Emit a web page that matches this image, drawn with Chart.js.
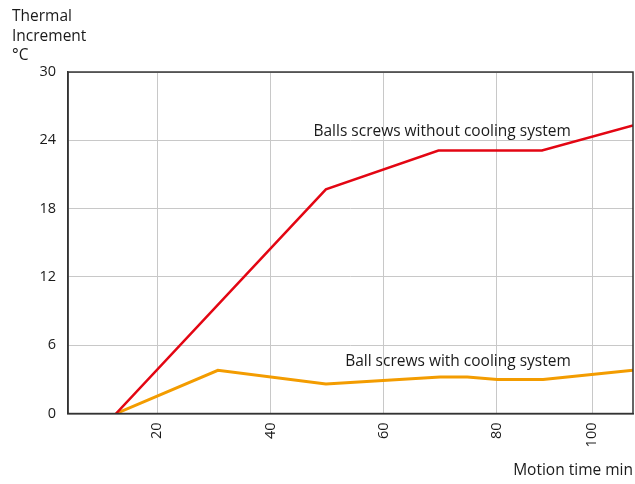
<!DOCTYPE html>
<html>
<head>
<meta charset="utf-8">
<script src="https://cdn.jsdelivr.net/npm/chart.js@4/dist/chart.umd.min.js"></script>
<style>
  html, body { margin: 0; padding: 0; background: #fff; }
  #wrap { width: 635px; height: 484px; }
</style>
</head>
<body>
<div id="wrap"><canvas id="c" width="635" height="484"></canvas></div>
<script>
// ---- data ----
const timeWithout = [12.7, 49.8, 69.7, 88.0, 104.1];
const tempWithout = [0, 19.7, 23.1, 23.1, 25.3];
const timeWith = [12.7, 30.7, 49.8, 59.9, 70.0, 74.8, 80.1, 88.2, 104.1];
const tempWith = [0, 3.8, 2.6, 2.9, 3.2, 3.2, 3.0, 3.0, 3.8];
const seriesNames = ['Balls screws without cooling system', 'Ball screws with cooling system'];
const labelX = [47.6, 53.2];
const labelY = [24.4, 4.2];
const xTickValues = [20, 40, 60, 80, 96.9];
const xTickLabels = ['20', '40', '60', '80', '100'];
const yTickValues = [0, 6, 12, 18, 24, 30];
const yTitleLines = ['Thermal', 'Increment', '°C'];
const xTitle = 'Motion time min';

const FONT = "'Open Sans', 'Noto Sans', sans-serif";
const RED = 'rgb(227,6,19)';
const ORANGE = 'rgb(243,156,0)';

const toPts = (xs, ys) => xs.map((x, i) => ({ x: x, y: ys[i] }));

const frameAndLabels = {
  id: 'frameAndLabels',
  afterDatasetsDraw(chart) {
    const { ctx, chartArea: a, scales } = chart;
    ctx.save();
    ctx.strokeStyle = '#333';
    ctx.lineWidth = 1.5;
    ctx.strokeRect(a.left, a.top, a.right - a.left, a.bottom - a.top);
    ctx.fillStyle = '#1a1a1a';
    ctx.font = '15.5px ' + FONT;
    ctx.textAlign = 'left';
    ctx.textBaseline = 'alphabetic';
    seriesNames.forEach((t, i) => {
      ctx.fillText(t, scales.x.getPixelForValue(labelX[i]), scales.y.getPixelForValue(labelY[i]));
    });
    ctx.restore();
  }
};

new Chart(document.getElementById('c'), {
  type: 'line',
  data: {
    datasets: [
      { label: seriesNames[0], data: toPts(timeWithout, tempWithout), borderColor: RED, borderWidth: 2.5, pointRadius: 0, tension: 0, fill: false },
      { label: seriesNames[1], data: toPts(timeWith, tempWith), borderColor: ORANGE, borderWidth: 3, pointRadius: 0, tension: 0, fill: false }
    ]
  },
  options: {
    responsive: false,
    animation: false,
    events: [],
    layout: { padding: { left: 12, right: 2, top: 0, bottom: 0 } },
    plugins: {
      legend: { display: false },
      tooltip: { enabled: false },
      title: {
        display: true,
        text: yTitleLines,
        align: 'start',
        color: '#1a1a1a',
        font: { family: FONT, size: 15.5, weight: 'normal', lineHeight: 1.25 },
        padding: { top: 7.3, bottom: 6.6 }
      }
    },
    scales: {
      x: {
        type: 'linear',
        min: 4.2,
        max: 104.1,
        afterBuildTicks: (s) => { s.ticks = xTickValues.map(v => ({ value: v })); },
        ticks: {
          autoSkip: false,
          minRotation: 90,
          maxRotation: 90,
          crossAlign: 'center',
          padding: 9,
          color: '#1a1a1a',
          font: { family: FONT, size: 14.5 },
          callback: (v, i) => xTickLabels[i]
        },
        grid: { color: '#c8c8c8', lineWidth: 1, drawTicks: false },
        border: { display: true, color: '#333', width: 1.5 },
        title: {
          display: true,
          text: xTitle,
          align: 'end',
          color: '#1a1a1a',
          font: { family: FONT, size: 15.5 },
          padding: { top: 5, bottom: 4 }
        }
      },
      y: {
        type: 'linear',
        min: 0,
        max: 30,
        afterBuildTicks: (s) => { s.ticks = yTickValues.map(v => ({ value: v })); },
        afterFit: (s) => { s.width = 56; },
        ticks: {
          padding: 12,
          color: '#1a1a1a',
          font: { family: FONT, size: 14.5 }
        },
        grid: { color: '#c8c8c8', lineWidth: 1, drawTicks: false },
        border: { display: true, color: '#333', width: 1.5 }
      }
    }
  },
  plugins: [frameAndLabels]
});
</script>
</body>
</html>
